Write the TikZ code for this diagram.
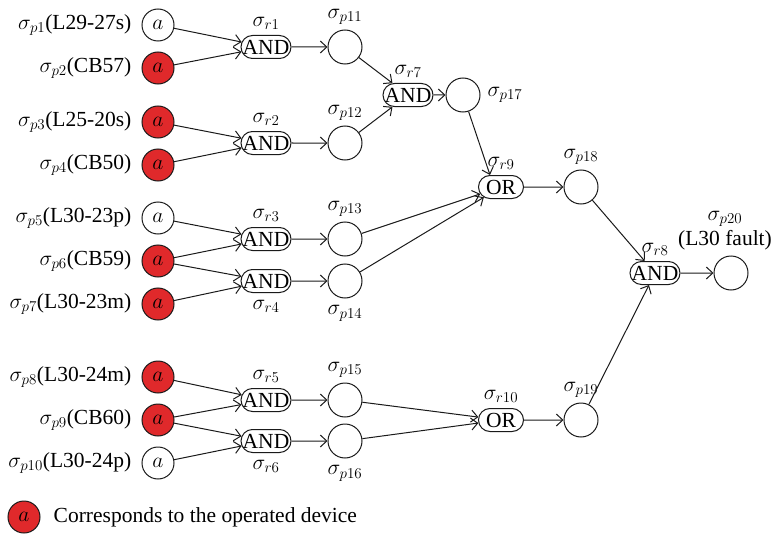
\RequirePackage{fix-cm}
\documentclass[tikz,border=0pt]{standalone}
\usepackage{fontspec}
\setmainfont{Liberation Serif}
\usepackage{xcolor}
\definecolor{operatedRed}{HTML}{E0292B}
\definecolor{darkLine}{HTML}{1A1A1A}
\usepackage{tikz}
\usetikzlibrary{
    shapes.misc,
    arrows.meta,
    positioning
}
\newcommand{\gatetext}[1]{\makebox[20pt]{#1}}
\tikzset{
    % Base style for all places
    place base/.style={
        circle,
        draw=darkLine,
        line width=1pt,
        minimum size=32pt,
        inner sep=0pt,
    },
    % Input places - plain circle
    input place/.style={place base},
    % Operated device - red filled circle
    operated/.style={place base, fill=operatedRed},
    % Intermediate places - a bit larger
    inner place/.style={place base, minimum size=34pt},
    % Rule neurons - rounded box
    gate/.style={
        rounded rectangle,
        draw=darkLine,
        line width=1pt,
        minimum height=23pt,
        inner xsep=1.5pt,
        inner ysep=0pt,
    },
    and gate/.style={gate, minimum width=53pt},
    or gate/.style={gate, minimum width=48pt},
    % Synapse arrow - thin, open tip
    arrow/.style={
        -{Straight Barb[length=6.5pt, width=12pt]},
        line width=1pt,
        draw=darkLine,
    },
    every label/.style={inner sep=1pt},
}

\begin{document}
\begin{tikzpicture}[x=1pt, y=-1pt, node distance=43pt, font=\fontsize{21.5}{25}\selectfont, label distance=4pt]
    \useasboundingbox (0,0) rectangle (774,535);

    % input places
    \node (p1) [input place, label={[label distance=9pt]left:$\sigma_{p1}$(L29-27s)}] at (158,25) {$a$};
    \node (p2) [operated, below of=p1, label={[label distance=9pt]left:$\sigma_{p2}$(CB57)}] {$a$};
    \node (p3) [operated, label={[label distance=9pt]left:$\sigma_{p3}$(L25-20s)}] at (158,122) {$a$};
    \node (p4) [operated, below of=p3, label={[label distance=9pt]left:$\sigma_{p4}$(CB50)}] {$a$};
    \node (p5) [input place, label={[label distance=9pt]left:$\sigma_{p5}$(L30-23p)}] at (158,218) {$a$};
    \node (p6) [operated, below of=p5, label={[label distance=9pt]left:$\sigma_{p6}$(CB59)}] {$a$};
    \node (p7) [operated, below of=p6, label={[label distance=9pt]left:$\sigma_{p7}$(L30-23m)}] {$a$};
    \node (p8) [operated, label={[label distance=9pt]left:$\sigma_{p8}$(L30-24m)}] at (158,377) {$a$};
    \node (p9) [operated, below of=p8, label={[label distance=9pt]left:$\sigma_{p9}$(CB60)}] {$a$};
    \node (p10) [input place, below of=p9, label={[label distance=9pt]left:$\sigma_{p10}$(L30-24p)}] {$a$};

    % first layer of rules
    \node (r1) [and gate, label=above:$\sigma_{r1}$] at (266,47) {\gatetext{AND}};
    \node (r2) [and gate, label=above:$\sigma_{r2}$] at (266,143) {\gatetext{AND}};
    \node (r3) [and gate, label=above:$\sigma_{r3}$] at (266,239) {\gatetext{AND}};
    \node (r4) [and gate, label={[label distance=6pt]below:$\sigma_{r4}$}] at (266,281) {\gatetext{AND}};
    \node (r5) [and gate, label=above:$\sigma_{r5}$] at (266,400) {\gatetext{AND}};
    \node (r6) [and gate, label={[label distance=6pt]below:$\sigma_{r6}$}] at (266,441) {\gatetext{AND}};

    \node (p11) [inner place, right of=r1, xshift=36pt, label=above:$\sigma_{p11}$] {};
    \node (p12) [inner place, right of=r2, xshift=36pt, label=above:$\sigma_{p12}$] {};
    \node (p13) [inner place, right of=r3, xshift=36pt, label=above:$\sigma_{p13}$] {};
    \node (p14) [inner place, right of=r4, xshift=36pt, label={[label distance=6pt]below:$\sigma_{p14}$}] {};
    \node (p15) [inner place, right of=r5, xshift=36pt, label=above:$\sigma_{p15}$] {};
    \node (p16) [inner place, right of=r6, xshift=36pt, label={[label distance=6pt]below:$\sigma_{p16}$}] {};

    % second layer
    \node (r7) [and gate, label=above:$\sigma_{r7}$] at (408,95) {\gatetext{AND}};
    \node (p17) [inner place, right of=r7, xshift=12pt, label={[label distance=6pt]right:$\sigma_{p17}$}] {};
    \node (r9) [or gate, label=above:$\sigma_{r9}$] at (501,187) {\gatetext{OR}};
    \node (p18) [inner place, right of=r9, xshift=37pt, label=above:$\sigma_{p18}$] {};
    \node (r10) [or gate, label=above:$\sigma_{r10}$] at (501,420) {\gatetext{OR}};
    \node (p19) [inner place, right of=r10, xshift=37pt, label=above:$\sigma_{p19}$] {};
    \node (r8) [and gate, label=above:$\sigma_{r8}$] at (655,273) {\gatetext{AND}};
    \node (p20) [inner place, right of=r8, xshift=33pt, label={[align=center, xshift=-6pt]above:$\sigma_{p20}$\\(L30 fault)}] {};

    % legend
    \node (key) [operated] at (24,517) {$a$};
    \node (keytext) [right=13pt of key, inner sep=0pt] {Corresponds to the operated device};

    \draw [arrow] (p1) -- (r1);
    \draw [arrow] (p2) -- (r1);
    \draw [arrow] (p3) -- (r2);
    \draw [arrow] (p4) -- (r2);
    \draw [arrow] (p5) -- (r3);
    \draw [arrow] (p6) -- (r3);
    \draw [arrow] (p6) -- (r4);
    \draw [arrow] (p7) -- (r4);
    \draw [arrow] (p8) -- (r5);
    \draw [arrow] (p9) -- (r5);
    \draw [arrow] (p9) -- (r6);
    \draw [arrow] (p10) -- (r6);
    \draw [arrow] (r1) -- (p11);
    \draw [arrow] (r2) -- (p12);
    \draw [arrow] (r3) -- (p13);
    \draw [arrow] (r4) -- (p14);
    \draw [arrow] (r5) -- (p15);
    \draw [arrow] (r6) -- (p16);
    \draw [arrow] (p11) -- (r7);
    \draw [arrow] (p12) -- (r7);
    \draw [arrow] (r7) -- (p17);
    \draw [arrow] (p17) -- (r9.north west);
    \draw [arrow] (p13) -- (r9);
    \draw [arrow] (p14) -- (r9);
    \draw [arrow] (r9) -- (p18);
    \draw [arrow] (p15) -- (r10);
    \draw [arrow] (p16) -- (r10);
    \draw [arrow] (r10) -- (p19);
    \draw [arrow] (p18) -- (r8);
    \draw [arrow] (p19) -- (r8);
    \draw [arrow] (r8) -- (p20);
\end{tikzpicture}
\end{document}
